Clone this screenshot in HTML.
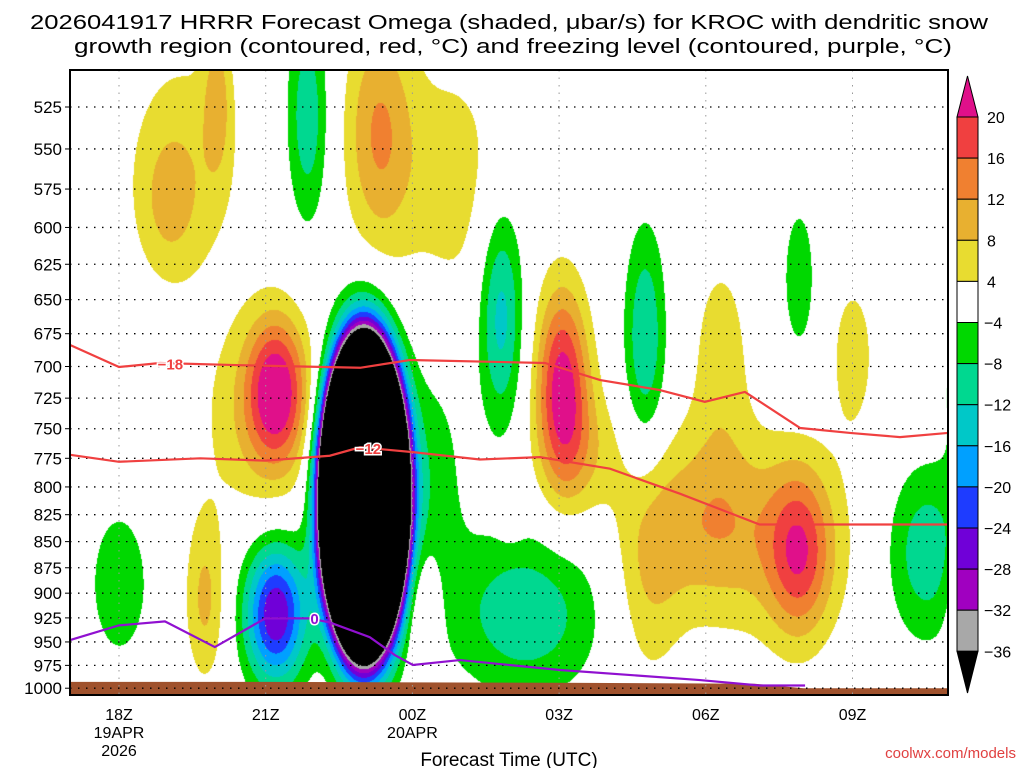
<!DOCTYPE html>
<html><head><meta charset="utf-8">
<style>
html,body{margin:0;padding:0;background:#fff;}
#wrap{position:relative;width:1024px;height:768px;overflow:hidden;font-family:"Liberation Sans",sans-serif;}
#field{position:absolute;left:70px;top:70px;}
#ov{position:absolute;left:0;top:0;}
</style></head>
<body>
<div id="wrap">
<canvas id="field" width="878" height="625"></canvas>
<svg id="ov" width="1024" height="768" xmlns="http://www.w3.org/2000/svg"></svg>
</div>
<script>
// ---- data ----
const presTicks=[525,550,575,600,625,650,675,700,725,750,775,800,825,850,875,900,925,950,975,1000];
const timeTickHours=[0,3,6,9,12,15];
const timeTickLabels=["18Z","21Z","00Z","03Z","06Z","09Z"];
const timeTickSub1=["19APR","","20APR","","",""];
const timeTickSub2=["2026","","","","",""];
// omega features (hours from 18Z, hPa, amplitude microbar/s, sigma hours, sigma hPa)
const featHour=[1.3,1.0,2.0,2.9,3.2,5.0,3.2,0.0,1.75,3.85,5.3,6.4,8.3,7.8,10.75,13.9,16.5,17.3,9.06,12.0,13.9,12.3,15.0,17.3,8.0,6.2,17.3,6.8,10.8,9.5,13.6];
const featPres=[560,585,520,740,718,808,920,890,905,530,540,790,920,660,680,635,860,710,715,830,860,690,690,530,815,915,905,570,880,770,850];
const featAmp=[6.5,5,8,7,20,-600,-28,-6,9,-11,12,-6,-11,-14,-12,-7,-11,-8,22,9,15,6,6,8,6,7,6,6,7,6,6];
const featSigH=[0.85,0.4,0.2,0.9,0.42,0.4,0.45,0.55,0.3,0.3,0.5,0.5,1.1,0.32,0.3,0.25,0.6,0.3,0.38,0.9,0.45,0.45,0.35,0.3,0.2,0.25,0.25,0.8,0.5,0.6,1.2];
const featSigP=[55,30,30,60,40,64,50,68,60,45,50,80,60,57,60,40,60,50,55,60,55,60,45,45,20,45,45,60,80,40,70];
const levelBounds=[20,16,12,8,4,-4,-8,-12,-16,-20,-24,-28,-32,-36];
const levelColors=["#e0108a","#f04040","#f08030","#e8b030","#e8dc30","#ffffff","#00d800","#00d890","#00c8c8","#00a0ff","#1e3cff","#7000d8","#a000c0","#a8a8a8","#000000"];
// dendritic -18 C contour
const iso18Hours=[-1,0,0.84,2.47,4.93,5.95,8.71,9.84,11.06,11.98,12.8,13.93,14.95,15.97,16.95];
const iso18Pres=[683.5,700.4,697.3,699,701,695,697.3,710.6,718.5,728,720,749.4,753.5,757,753.5];
// dendritic -12 C contour
const iso12Hours=[-1,0,1.66,2.99,4.31,4.93,6.01,7.38,8.61,10.04,11.47,13.1,14.54,16.95];
const iso12Pres=[772,778,775,777,772.8,765.6,769.7,776,774,784,806,834,834,834];
// freezing level 0 C
const iso0Hours=[-1,0,0.94,1.96,2.99,3.9,4.31,5.13,5.64,6.01,6.97,9.02,11.88,13.1,14.03];
const iso0Pres=[948,932.7,928.6,955.4,925.5,925.5,929.7,945,963.9,974.6,969.3,980,991,997,997];
// terrain surface pressure
const sfcHours=[-1,3,6,9,13,14,17];
const sfcPres=[993,993,993.5,994,995,1000,1000];

// ---- axes ----
const X0=70,X1=948,Y0=70,Y1=695;
function xOf(h){return 119+48.9*h;}
function yOf(p){return 107+902*Math.log(p/525);}
function colorIdx(v){for(let i=0;i<levelBounds.length;i++){if(v>=levelBounds[i])return i;}return levelBounds.length;}
function hex(c){return [parseInt(c.substr(1,2),16),parseInt(c.substr(3,2),16),parseInt(c.substr(5,2),16)];}

// ---- shaded field ----
(function(){
 const cv=document.getElementById('field');const ctx=cv.getContext('2d');
 const W=X1-X0,H=Y1-Y0;const img=ctx.createImageData(W,H);
 const rgb=levelColors.map(hex);
 const n=featHour.length;const lp0=featPres.map(p=>Math.log(p));const slp=featSigP.map((s,i)=>s/featPres[i]);
 for(let j=0;j<H;j++){
  const lnp=Math.log(525)+(Y0+j-107)/902;
  for(let i=0;i<W;i++){
   const h=(X0+i-119)/48.9;let v=0;
   for(let k=0;k<n;k++){const dx=(h-featHour[k])/featSigH[k];const dy=(lnp-lp0[k])/slp[k];const d=dx*dx+dy*dy;if(d<40)v+=featAmp[k]*Math.exp(-0.5*d);}
   const c=rgb[colorIdx(v)];const o=(j*W+i)*4;img.data[o]=c[0];img.data[o+1]=c[1];img.data[o+2]=c[2];img.data[o+3]=255;
  }
 }
 ctx.putImageData(img,0,0);
})();

// ---- overlay ----
const svg=document.getElementById('ov');const NS='http://www.w3.org/2000/svg';
function mk(tag,attrs,parent){const e=document.createElementNS(NS,tag);for(const k in attrs)e.setAttribute(k,attrs[k]);(parent||svg).appendChild(e);return e;}
function txt(s,attrs){const e=mk('text',attrs);e.textContent=s;return e;}

// terrain
{let d='M'+X0+','+Y1;for(let i=0;i<sfcHours.length;i++){d+=' L'+Math.min(X1,Math.max(X0,xOf(sfcHours[i])))+','+yOf(sfcPres[i]);}d+=' L'+X1+','+Y1+' Z';
 const t=mk('path',{d:d,fill:'#a0522d'});
 
 }

// grid
presTicks.forEach(p=>{const y=yOf(p);
 const g=mk('line',{x1:X0,x2:X1,y1:y,y2:y,stroke:'#000','stroke-width':1.3,'stroke-dasharray':'1.5,6.5'});
 
 
 const l=txt(String(p),{x:62,y:y+6,'text-anchor':'end','font-size':17,fill:'#000'});
 
 
 mk('line',{x1:X0-5,x2:X0,y1:y,y2:y,stroke:'#000','stroke-width':1});
});
timeTickHours.forEach((h,i)=>{const x=xOf(h);
 const g=mk('line',{x1:x,x2:x,y1:Y0,y2:Y1,stroke:'#999','stroke-width':1,'stroke-dasharray':'1.5,6'});
 
 
 const l=txt(timeTickLabels[i],{x:x,y:720,'text-anchor':'middle','font-size':16});
 
 
 if(timeTickSub1[i])txt(timeTickSub1[i],{x:x,y:738,'text-anchor':'middle','font-size':16});
 if(timeTickSub2[i])txt(timeTickSub2[i],{x:x,y:756,'text-anchor':'middle','font-size':16});
});

// contour lines
function line(hs,ps,color,name){const pts=hs.map((h,i)=>Math.min(X1,Math.max(X0,xOf(h)))+','+yOf(ps[i])).join(' ');
 const e=mk('polyline',{points:pts,fill:'none',stroke:color,'stroke-width':2.2});
 
 }
line(iso18Hours,iso18Pres,'#f04040','contour-minus18');
line(iso12Hours,iso12Pres,'#f04040','contour-minus12');
line(iso0Hours,iso0Pres,'#9010d0','freezing-level-0');
function clabel(s,h,p,color,name){const x=xOf(h),y=yOf(p);
 const e=txt(s,{x:x,y:y+6,'text-anchor':'middle','font-size':15,'font-weight':'bold',fill:color,stroke:'#fff','stroke-width':3,'paint-order':'stroke'});
 
 }
clabel('−18',1.05,697.5,'#f04040','label-minus18');
clabel('−12',5.1,766,'#f04040','label-minus12');
clabel('0',4.0,925,'#9010d0','label-zero');

// border
{const b=mk('rect',{x:X0,y:Y0,width:X1-X0,height:Y1-Y0,fill:'none',stroke:'#000','stroke-width':2});
 
 }

// colorbar
{const cx0=957,cx1=978,top=117,bh=41.1;
 const g=mk('g',{});
 
 
 mk('path',{d:`M${cx0},${top} L${(cx0+cx1)/2},76 L${cx1},${top} Z`,fill:levelColors[0],stroke:'#000','stroke-width':1},g);
 for(let i=0;i<levelBounds.length-1;i++){mk('rect',{x:cx0,y:top+i*bh,width:cx1-cx0,height:bh,fill:levelColors[i+1],stroke:'#000','stroke-width':1},g);}
 const bot=top+(levelBounds.length-1)*bh;
 mk('path',{d:`M${cx0},${bot} L${(cx0+cx1)/2},693 L${cx1},${bot} Z`,fill:'#000',stroke:'#000','stroke-width':1},g);
 levelBounds.forEach((v,i)=>{const t=txt((v<0?'−':'')+Math.abs(v),{x:v<0?984:987,y:top+i*bh+6,'font-size':16});
  
  });
}

// titles
{const t1=txt('2026041917 HRRR Forecast Omega (shaded, μbar/s) for KROC with dendritic snow',{x:30,y:29,'font-size':20,textLength:958,lengthAdjust:'spacingAndGlyphs'});
 
 
 const t2=txt('growth region (contoured, red, °C) and freezing level (contoured, purple, °C)',{x:74,y:53,'font-size':20,textLength:878,lengthAdjust:'spacingAndGlyphs'});
 
 
 const xt=txt('Forecast Time (UTC)',{x:509,y:766,'text-anchor':'middle','font-size':19});
 
 
 const cr=txt('coolwx.com/models',{x:1016,y:758,'text-anchor':'end','font-size':15,fill:'#e04040'});
 
 }
</script>
</body></html>
